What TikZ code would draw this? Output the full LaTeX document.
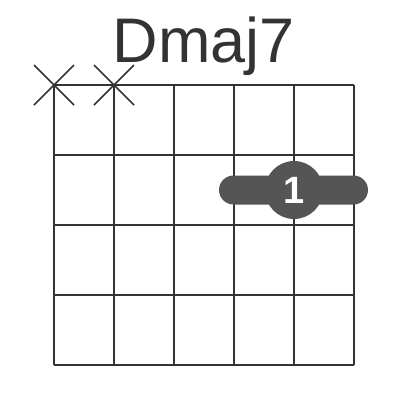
\documentclass[tikz,border=0pt]{standalone}
\usepackage{fontspec}
\setmainfont{Liberation Sans}
\definecolor{gridc}{HTML}{333333}
\definecolor{dotc}{HTML}{555555}
\begin{document}
\begin{tikzpicture}[x=1pt,y=-1pt,
  gridline/.style={draw=gridc,line width=2.4pt},
  xmark/.style={draw=gridc,line width=1.6pt},
  barre/.style={fill=dotc,rounded corners=14.5pt},
  fingerdot/.style={circle,fill=dotc,minimum size=58pt,inner sep=0pt,text=white,font=\bfseries\fontsize{38}{38}\selectfont}]
\useasboundingbox (0,0) rectangle (400,400);
\node[text=gridc,font=\fontsize{63}{63}\selectfont,anchor=base] (title) at (204,62) {Dmaj7};
\foreach \i in {0,...,5} \draw[gridline] (54+60*\i,85) -- (54+60*\i,365);
\foreach \j in {0,...,4} \draw[gridline] (54,85+70*\j) -- (354,85+70*\j);
\foreach \c in {54,114} {
  \draw[xmark] (\c-20,65) -- (\c+20,105);
  \draw[xmark] (\c-20,105) -- (\c+20,65);
}
\fill[barre] (219,175.5) rectangle (368,204.5);
\node[fingerdot] (f1) at (294,190) {1};
\end{tikzpicture}
\end{document}
